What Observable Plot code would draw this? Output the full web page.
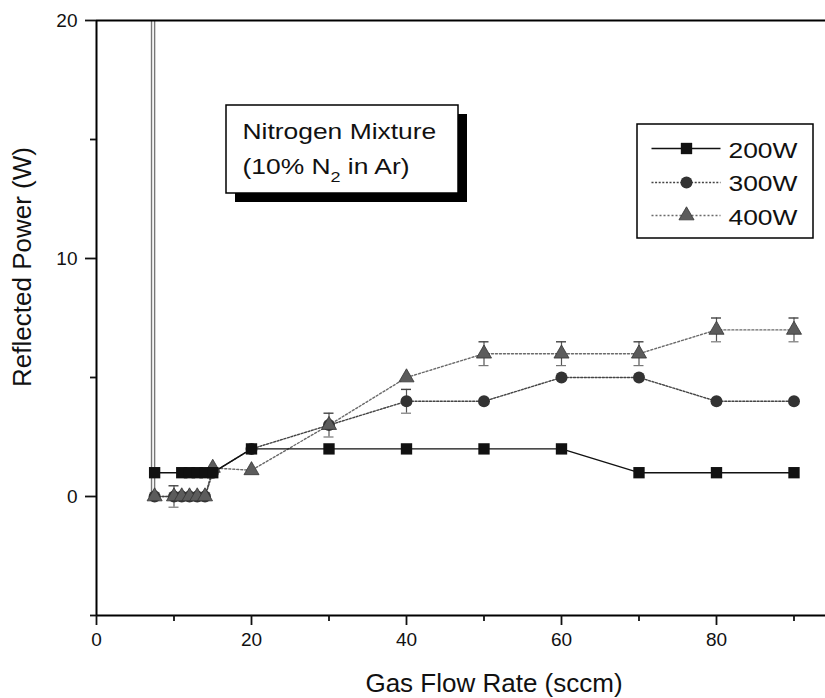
<!DOCTYPE html>
<html><head><meta charset="utf-8">
<script src="https://cdn.jsdelivr.net/npm/d3@7"></script>
<script src="https://cdn.jsdelivr.net/npm/@observablehq/plot@0.6"></script>
<style>
html,body{margin:0;padding:0;background:#fff;overflow:hidden}
#chart svg{display:block}
</style></head><body>
<div id="chart"></div>
<script>
// ---- data ----
const series = ["200W", "300W", "400W"];
const flow200 = [7.5, 11, 12, 13, 14, 15, 20, 30, 40, 50, 60, 70, 80, 90];
const power200 = [1, 1, 1, 1, 1, 1, 2, 2, 2, 2, 2, 1, 1, 1];
const flow300 = [7.5, 10, 11, 12, 13, 14, 15, 20, 30, 40, 50, 60, 70, 80, 90];
const power300 = [0, 0, 0, 0, 0, 0, 1, 2, 3, 4, 4, 5, 5, 4, 4];
const err300 = [0, 0.45, 0, 0, 0, 0, 0, 0, 0.5, 0.5, 0, 0, 0, 0, 0];
const flow400 = [7.5, 10, 11, 12, 13, 14, 15, 20, 30, 40, 50, 60, 70, 80, 90];
const power400 = [0, 0, 0, 0, 0, 0, 1.2, 1.1, 3, 5, 6, 6, 6, 7, 7];
const err400 = [0, 0, 0, 0, 0, 0, 0, 0, 0, 0, 0.5, 0.5, 0.5, 0.5, 0.5];
const spikeFlow = [7.1, 7.5];
const spikeLow = [0, 0];
const spikeHigh = [20, 20];
const xMajor = [0, 20, 40, 60, 80];
const xMinor = [10, 30, 50, 70, 90];
const yMajor = [0, 10, 20];
const yMinor = [-5, 5, 15];
const xTitle = "Gas Flow Rate (sccm)";
const yTitle = "Reflected Power (W)";
const noteLines = ["Nitrogen Mixture", "(10% N2 in Ar)"];

// ---- layout ----
const W = 825, H = 698, ML = 96, MR = 0, MT = 20, MB = 83;
const xMax = 94.065, yMin = -5, yMax = 20;
const fx = p => (p - ML) / (W - ML - MR) * xMax;
const fy = p => yMax - (p - MT) / (H - MT - MB) * (yMax - yMin);
const font = "'Liberation Sans', Arial, Helvetica, sans-serif";

const rows = (xs, ys, es) => xs.map((x, i) => ({x, y: ys[i], e: es ? es[i] : 0}));
const r200 = rows(flow200, power200);
const r300 = rows(flow300, power300, err300);
const r400 = rows(flow400, power400, err400);
const spikes = spikeFlow.map((x, i) => ({x, y1: spikeLow[i], y2: spikeHigh[i]}));
const errs = [...r300, ...r400].filter(d => d.e > 0);
const cap = 5 / 7.75;

const style = {
  "200W": {stroke: "#111", dash: null, symbol: "square", fill: "#111", r: 6.4, sw: 1.4},
  "300W": {stroke: "#444", dash: "2,1.6", symbol: "circle", fill: "#333", r: 6, sw: 1.4},
  "400W": {stroke: "#6a6a6a", dash: "2,2", symbol: "triangle", fill: "#5c5c5c", r: 5.6, sw: 1.4}
};
const data = {"200W": r200, "300W": r300, "400W": r400};

const marks = [];
// spikes (off-scale readings at low flow)
marks.push(Plot.ruleX(spikes, {x: "x", y1: "y1", y2: "y2", stroke: "#777", strokeWidth: 1.4}));
// lines
for (const s of ["400W", "300W", "200W"]) {
  const st = style[s];
  marks.push(Plot.line(data[s], {x: "x", y: "y", stroke: st.stroke, strokeWidth: st.sw, strokeDasharray: st.dash}));
}
// error bars
marks.push(Plot.ruleX(errs, {x: "x", y1: d => d.y - d.e, y2: d => d.y + d.e, stroke: "#555", strokeWidth: 1.2}));
marks.push(Plot.ruleY(errs, {y: d => d.y + d.e, x1: d => d.x - cap, x2: d => d.x + cap, stroke: "#444", strokeWidth: 1.4}));
marks.push(Plot.ruleY(errs, {y: d => d.y - d.e, x1: d => d.x - cap, x2: d => d.x + cap, stroke: "#777", strokeWidth: 1.2}));
// markers
for (const s of ["300W", "400W", "200W"]) {
  const st = style[s];
  marks.push(Plot.dot(data[s], {x: "x", y: "y", symbol: st.symbol, r: st.r, fill: st.fill,
    stroke: s === "400W" ? "#333" : "none", strokeWidth: 0.8}));
}
// frame
marks.push(Plot.ruleX([0], {stroke: "#000", strokeWidth: 2}));
marks.push(Plot.ruleY([yMin], {stroke: "#000", strokeWidth: 2}));
marks.push(Plot.ruleY([yMax], {stroke: "#000", strokeWidth: 2}));
// axes
marks.push(Plot.axisY(yMajor, {tickSize: 11, tickPadding: 8, strokeWidth: 1.8, label: null}));
marks.push(Plot.axisY(yMinor, {tickSize: 6, tickFormat: () => "", strokeWidth: 1.8, label: null}));
marks.push(Plot.axisX(xMajor, {tickSize: 10, tickPadding: 7, strokeWidth: 1.8, label: null}));
marks.push(Plot.axisX(xMinor, {tickSize: 6, tickFormat: () => "", strokeWidth: 1.8, label: null}));
marks.push(Plot.text([yTitle], {frameAnchor: "left", dx: -74, dy: -51, rotate: -90, fontSize: 26, lineAnchor: "middle", textAnchor: "middle", fill: "#111"}));
marks.push(Plot.text([xTitle], {frameAnchor: "bottom", dx: 33, dy: 68, fontSize: 26, lineAnchor: "middle", fill: "#111"}));

// annotation box with shadow
marks.push(Plot.rect([0], {x1: () => fx(235), x2: () => fx(467), y1: () => fy(114), y2: () => fy(202), fill: "#000"}));
marks.push(Plot.rect([0], {x1: () => fx(226), x2: () => fx(458), y1: () => fy(105), y2: () => fy(193), fill: "#fff", stroke: "#000", strokeWidth: 1.5}));
marks.push(Plot.text(noteLines, {x: () => fx(242), y: (d, i) => fy([131, 166][i]), text: d => d, textAnchor: "start", lineAnchor: "middle", fontSize: 22, fill: "#111"}));

// legend
marks.push(Plot.rect([0], {x1: () => fx(637), x2: () => fx(813), y1: () => fy(124), y2: () => fy(238), fill: "#fff", stroke: "#000", strokeWidth: 1.5}));
const legY = [148, 182, 215];
series.forEach((s, i) => {
  const st = style[s];
  marks.push(Plot.link([s], {x1: () => fx(651), x2: () => fx(720), y1: () => fy(legY[i]), y2: () => fy(legY[i]), stroke: st.stroke, strokeWidth: st.sw, strokeDasharray: st.dash}));
  marks.push(Plot.dot([s], {x: () => fx(686), y: () => fy(legY[i]), symbol: st.symbol, r: st.r, fill: st.fill, stroke: s === "400W" ? "#333" : "none", strokeWidth: 0.8}));
});
marks.push(Plot.text(series, {x: () => fx(728), y: (d, i) => fy([150, 183, 217][i]), text: d => d, textAnchor: "start", lineAnchor: "middle", fontSize: 22, fill: "#111"}));

const chart = Plot.plot({
  width: W, height: H,
  marginLeft: ML, marginRight: MR, marginTop: MT, marginBottom: MB,
  x: {domain: [0, xMax]},
  y: {domain: [yMin, yMax]},
  style: {fontFamily: font, fontSize: "19px", background: "#fff", color: "#111", overflow: "visible"},
  marks
});
document.getElementById("chart").append(chart);

// tick labels at reference size
chart.querySelectorAll('g[aria-label$="tick label"]').forEach(g => {
  g.setAttribute("font-size", "19");
  g.style.fontSize = "19px";
  g.querySelectorAll("text").forEach(t => { t.style.fontSize = "19px"; t.setAttribute("fill", "#111"); });
});

// subscript for N2 and slight horizontal stretch of box texts (as in reference)
const boxTexts = new Set([...noteLines, ...series]);
chart.querySelectorAll("text").forEach(t => {
  const c = t.textContent;
  if (!boxTexts.has(c)) return;
  if (c === "(10% N2 in Ar)") {
    t.textContent = "";
    t.append(document.createTextNode("(10% N"));
    const sub = document.createElementNS("http://www.w3.org/2000/svg", "tspan");
    sub.setAttribute("dy", "8"); sub.setAttribute("font-size", "15"); sub.textContent = "2";
    const rest = document.createElementNS("http://www.w3.org/2000/svg", "tspan");
    rest.setAttribute("dy", "-8"); rest.textContent = " in Ar)";
    t.append(sub, rest);
  }
  const L = t.getComputedTextLength();
  t.setAttribute("textLength", (L * 1.2).toFixed(1));
  t.setAttribute("lengthAdjust", "spacingAndGlyphs");
});
</script>
</body></html>
